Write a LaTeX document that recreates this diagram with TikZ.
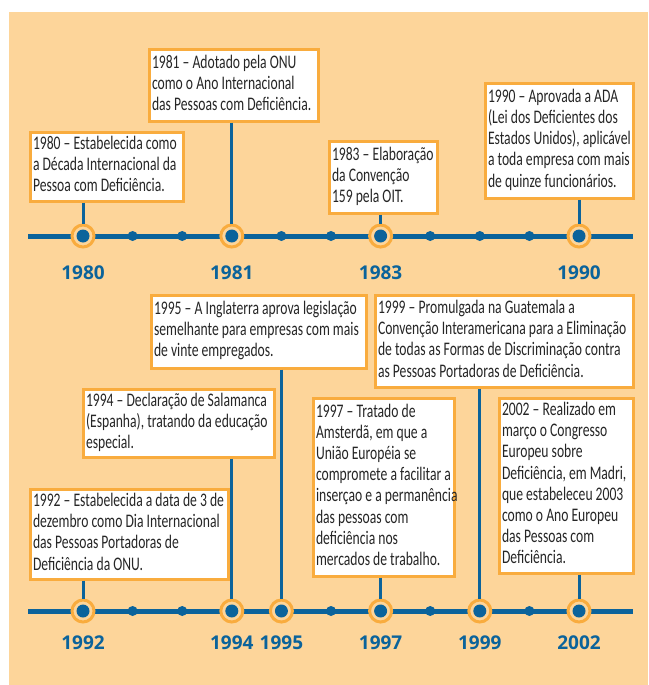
\documentclass[tikz,border=0pt]{standalone}
\usepackage{fontspec}
\setmainfont{Carlito}
\newfontfamily\boxfont[FakeStretch=0.71]{Carlito}
\newfontfamily\yearfont{Open Sans}
\usetikzlibrary{positioning}
\definecolor{bgorange}{HTML}{FDD59A}
\definecolor{lineorange}{HTML}{F9AC3E}
\definecolor{lineblue}{HTML}{0B639B}
% fixed-width block of lines, never rewrapped
\newcommand{\evlines}[2]{\makebox[#1][l]{\begin{tabular}{@{}l@{}}#2\end{tabular}}}

\begin{document}
\begin{tikzpicture}[x=1pt, y=-1pt,
    eventbox/.style={draw=lineorange, line width=3pt, fill=white, anchor=north west, inner xsep=3pt, inner ysep=2pt, text=black!85, font=\boxfont\fontsize{19.2}{21.2}\selectfont},
    ring/.style={circle, draw=lineorange, line width=3pt, fill=bgorange, minimum size=22pt, inner sep=0pt},
    core/.style={circle, fill=lineblue, minimum size=13pt, inner sep=0pt},
    tick/.style={circle, fill=lineblue, minimum size=10pt, inner sep=0pt},
    stem/.style={draw=lineblue, line width=3pt},
    yearlabel/.style={text=lineblue, font=\yearfont\bfseries\fontsize{19}{19}\selectfont}]
    \useasboundingbox (0,0) rectangle (648,685);
    \fill[bgorange] (9,12) rectangle (648,685);

    % timelines
    \coordinate (topstart) at (28,236);
    \coordinate (topend) at (633,236);
    \coordinate (botstart) at (28,611);
    \coordinate (botend) at (633,611);
    \draw[lineblue, line width=5pt] (topstart) -- (topend);
    \draw[lineblue, line width=5pt] (botstart) -- (botend);

    % upper events
    \node[eventbox, minimum width=153, minimum height=69] (b1980) at (28.5,130.5) {\evlines{147pt}{1980 – Estabelecida como\\a Década Internacional da\\Pessoa com Deficiência.}};
    \node[eventbox, minimum width=169, minimum height=71] (b1981) at (147.5,48.5) {\evlines{163pt}{1981 – Adotado pela ONU\\como o Ano Internacional\\das Pessoas com Deficiência.}};
    \node[eventbox, minimum width=108, minimum height=72] (b1983) at (327.5,139.5) {\evlines{102pt}{1983 – Elaboração\\da Convenção\\159 pela OIT.}};
    \node[eventbox, minimum width=148, minimum height=115] (b1990) at (483.5,81.5) {\evlines{142pt}{1990 – Aprovada a ADA\\(Lei dos Deficientes dos\\Estados Unidos), aplicável\\a toda empresa com mais\\de quinze funcionários.}};

    % lower events
    \node[eventbox, minimum width=215, minimum height=73] (b1995) at (149.5,293.5) {\evlines{209pt}{1995 – A Inglaterra aprova legislação\\semelhante para empresas com mais\\de vinte empregados.}};
    \node[eventbox, minimum width=191, minimum height=68] (b1994) at (81.5,387.5) {\evlines{185pt}{1994 – Declaração de Salamanca\\(Espanha), tratando da educação\\especial.}};
    \node[eventbox, minimum width=198, minimum height=90] (b1992) at (28.5,487.5) {\evlines{192pt}{1992 – Estabelecida a data de 3 de\\dezembro como Dia Internacional\\das Pessoas Portadoras de\\Deficiência da ONU.}};
    \node[eventbox, minimum width=141, minimum height=178] (b1997) at (311.5,396.5) {\evlines{135pt}{1997 – Tratado de\\Amsterdã, em que a\\União Européia se\\compromete a facilitar a\\inserçao e a permanência\\das pessoas com\\deficiência nos\\mercados de trabalho.}};
    \node[eventbox, minimum width=258, minimum height=92] (b1999) at (373.5,293.5) {\evlines{252pt}{1999 – Promulgada na Guatemala a\\Convenção Interamericana para a Eliminação\\de todas as Formas de Discriminação contra\\as Pessoas Portadoras de Deficiência.}};
    \node[eventbox, minimum width=134, minimum height=175] (b2002) at (497.5,396.5) {\evlines{128pt}{2002 – Realizado em\\março o Congresso\\Europeu sobre\\Deficiência, em Madri,\\que estabeleceu 2003\\como o Ano Europeu\\das Pessoas com\\Deficiência.}};

    % small ticks
    \foreach \k in {1,2,4,5,7,8,9}
      \node[tick] (ta\k) at ({83+49.6*\k},236) {};
    \foreach \k in {1,2,5,7,9}
      \node[tick] (tb\k) at ({83+49.6*\k},611) {};

    % year markers
    \foreach \yr/\k in {1980/0,1981/3,1983/6,1990/10} {
      \node[ring] (r\yr) at ({83+49.6*\k},236) {};
      \node[core] (c\yr) at (r\yr) {};
      \node[yearlabel] (y\yr) at ({83+49.6*\k},273) {\yr};
      \draw[stem] (b\yr.south -| r\yr) -- (r\yr.north);
    }
    \foreach \yr/\k in {1992/0,1994/3,1995/4,1997/6,1999/8,2002/10} {
      \node[ring] (r\yr) at ({83+49.6*\k},611) {};
      \node[core] (c\yr) at (r\yr) {};
      \node[yearlabel] (y\yr) at ({83+49.6*\k},643) {\yr};
      \draw[stem] (b\yr.south -| r\yr) -- (r\yr.north);
    }
\end{tikzpicture}
\end{document}
